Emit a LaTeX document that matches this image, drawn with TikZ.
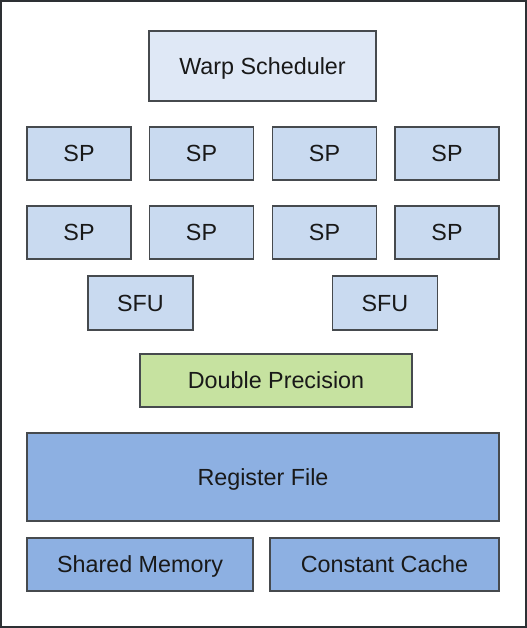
\documentclass[tikz,border=0pt]{standalone}
\usepackage{fontspec}
\setmainfont{Liberation Sans}
\usepackage{xcolor}
\usetikzlibrary{positioning}
\definecolor{framegrey}{RGB}{45, 48, 52}
\definecolor{edgegrey}{RGB}{70, 74, 78}
\definecolor{schedfill}{RGB}{223, 232, 246}
\definecolor{spfill}{RGB}{201, 218, 240}
\definecolor{dpfill}{RGB}{198, 226, 160}
\definecolor{memfill}{RGB}{141, 176, 226}

\tikzset{
  unitbox/.style={draw=edgegrey, line width=1.1pt, font=\fontsize{17.5}{20}\selectfont,
    inner sep=0pt, text height=12.5pt, text depth=0pt, text=black!90},
  spbox/.style={unitbox, fill=spfill, minimum width=78pt, minimum height=39.75pt},
  membox/.style={unitbox, fill=memfill}
}

\begin{document}
\begin{tikzpicture}[x=0.75pt, y=-0.75pt]
  \useasboundingbox (0,0) rectangle (527,628);
  \draw[framegrey, line width=1.2pt] (1,1) rectangle (526,627);

  \node[unitbox, fill=schedfill, minimum width=170.25pt, minimum height=52.5pt] (warp) at (262.5, 66) {Warp Scheduler};

  % two rows of streaming processors
  \foreach \row/\y in {1/153.5, 2/232.5} {
    \foreach \col/\x in {1/79, 2/201.5, 3/324.5, 4/447} {
      \node[spbox] (sp\row\col) at (\x, \y) {SP};
    }
  }

  \node[spbox, minimum width=78.75pt, minimum height=40.5pt] (sfu1) at (140.5, 303) {SFU};
  \node[spbox, minimum width=78.75pt, minimum height=40.5pt] (sfu2) at (385, 303) {SFU};

  \node[unitbox, fill=dpfill, minimum width=204pt, minimum height=39.75pt] (dp) at (276, 380.5) {Double Precision};

  \node[membox, minimum width=354pt, minimum height=66pt] (regfile) at (263, 477) {Register File};
  \node[membox, minimum width=169.5pt, minimum height=39.75pt] (shmem) at (140, 564.5) {Shared Memory};
  \node[membox, minimum width=171.75pt, minimum height=39.75pt] (ccache) at (384.5, 564.5) {Constant Cache};
\end{tikzpicture}
\end{document}
